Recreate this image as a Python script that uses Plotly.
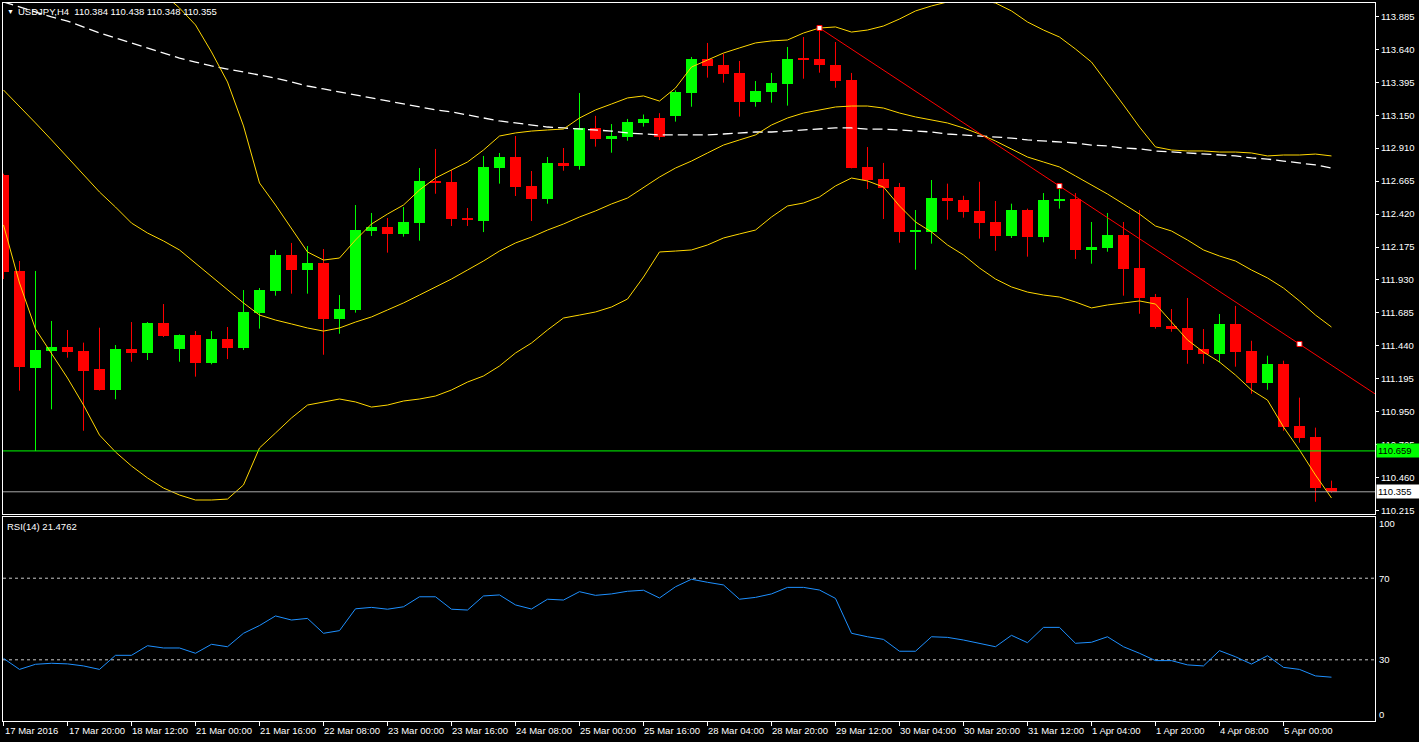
import plotly.graph_objects as go

# ---------------- data ----------------
time_labels = ["17 Mar 2016", "17 Mar 20:00", "18 Mar 12:00", "21 Mar 00:00", "21 Mar 16:00",
               "22 Mar 08:00", "23 Mar 00:00", "23 Mar 16:00", "24 Mar 08:00", "25 Mar 00:00",
               "25 Mar 16:00", "28 Mar 04:00", "28 Mar 20:00", "29 Mar 12:00", "30 Mar 04:00",
               "30 Mar 20:00", "31 Mar 12:00", "1 Apr 04:00", "1 Apr 20:00", "4 Apr 08:00",
               "5 Apr 00:00"]
label_bars = [0, 4, 8, 12, 16, 20, 24, 28, 32, 36, 40, 44, 48, 52, 56, 60, 64, 68, 72, 76, 80]

opens = [112.710, 111.997, 111.278, 111.404, 111.431, 111.402, 111.268, 111.112, 111.417, 111.389,
         111.610, 111.417, 111.521, 111.315, 111.491, 111.426, 111.684, 111.848, 112.115, 112.006,
         112.056, 111.640, 111.707, 112.294, 112.324, 112.274, 112.356, 112.666, 112.658, 112.393,
         112.368, 112.762, 112.844, 112.629, 112.532, 112.799, 112.779, 113.060, 112.980, 112.995,
         113.095, 113.136, 113.149, 113.322, 113.573, 113.528, 113.469, 113.255, 113.330, 113.389,
         113.575, 113.573, 113.528, 113.417, 112.770, 112.681, 112.621, 112.292, 112.289, 112.542,
         112.527, 112.443, 112.363, 112.259, 112.450, 112.252, 112.520, 112.532, 112.155, 112.170,
         112.264, 112.019, 111.803, 111.588, 111.573, 111.417, 111.382, 111.603, 111.402, 111.166,
         111.307, 110.846, 110.765, 110.384]
highs = [112.720, 112.071, 111.997, 111.625, 111.558, 111.464, 111.575, 111.446, 111.617, 111.617,
         111.751, 111.525, 111.550, 111.550, 111.580, 111.855, 111.870, 112.153, 112.205, 112.182,
         112.160, 111.818, 112.487, 112.428, 112.391, 112.472, 112.762, 112.904, 112.747, 112.465,
         112.852, 112.874, 113.000, 112.740, 112.844, 112.911, 113.320, 113.150, 113.089, 113.127,
         113.160, 113.170, 113.340, 113.588, 113.692, 113.612, 113.558, 113.409, 113.469, 113.662,
         113.736, 113.803, 113.699, 113.469, 112.918, 112.800, 112.651, 112.450, 112.673, 112.646,
         112.556, 112.660, 112.517, 112.497, 112.460, 112.576, 112.629, 112.576, 112.361, 112.428,
         112.361, 112.450, 111.826, 111.714, 111.796, 111.565, 111.677, 111.737, 111.478, 111.367,
         111.330, 111.055, 110.832, 110.438]
lows = [111.937, 111.107, 110.659, 110.968, 111.352, 110.809, 111.107, 111.043, 111.322, 111.335,
        111.506, 111.322, 111.211, 111.303, 111.342, 111.409, 111.568, 111.813, 111.828, 111.828,
        111.374, 111.530, 111.687, 112.257, 112.133, 112.252, 112.222, 112.571, 112.331, 112.331,
        112.286, 112.646, 112.554, 112.368, 112.497, 112.742, 112.750, 112.921, 112.876, 112.965,
        113.070, 112.970, 113.107, 113.218, 113.434, 113.397, 113.144, 113.218, 113.248, 113.226,
        113.426, 113.471, 113.359, 112.760, 112.606, 112.383, 112.207, 112.006, 112.200, 112.378,
        112.393, 112.237, 112.147, 112.242, 112.103, 112.210, 112.460, 112.086, 112.051, 112.140,
        111.813, 111.679, 111.568, 111.545, 111.307, 111.307, 111.315, 111.285, 111.084, 111.114,
        110.809, 110.720, 110.281, 110.348]
closes = [111.991, 111.285, 111.409, 111.434, 111.397, 111.255, 111.112, 111.417, 111.389, 111.610,
          111.515, 111.521, 111.315, 111.491, 111.426, 111.692, 111.855, 112.115, 112.006, 112.056,
          111.640, 111.714, 112.301, 112.326, 112.274, 112.361, 112.666, 112.651, 112.383, 112.378,
          112.770, 112.844, 112.621, 112.532, 112.799, 112.779, 113.060, 112.980, 113.003, 113.104,
          113.125, 112.995, 113.330, 113.573, 113.523, 113.463, 113.255, 113.335, 113.394, 113.573,
          113.570, 113.528, 113.409, 112.765, 112.675, 112.616, 112.289, 112.298, 112.542, 112.517,
          112.437, 112.356, 112.259, 112.450, 112.252, 112.524, 112.530, 112.155, 112.175, 112.264,
          112.014, 111.798, 111.582, 111.568, 111.411, 111.382, 111.603, 111.397, 111.166, 111.307,
          110.839, 110.757, 110.384, 110.355]

bb_middle = [113.342, 113.223, 113.097, 112.971, 112.844, 112.710, 112.584, 112.472, 112.353, 112.279,
             112.220, 112.153, 112.056, 111.959, 111.855, 111.759, 111.669, 111.632, 111.603, 111.573,
             111.550, 111.573, 111.617, 111.655, 111.707, 111.759, 111.818, 111.878, 111.937, 112.004,
             112.071, 112.145, 112.205, 112.249, 112.301, 112.346, 112.398, 112.443, 112.495, 112.539,
             112.614, 112.695, 112.762, 112.814, 112.874, 112.933, 112.971, 113.008, 113.082, 113.134,
             113.171, 113.194, 113.216, 113.223, 113.223, 113.208, 113.171, 113.142, 113.119, 113.097,
             113.060, 113.015, 112.963, 112.904, 112.844, 112.807, 112.770, 112.703, 112.636, 112.569,
             112.495, 112.420, 112.331, 112.294, 112.227, 112.153, 112.108, 112.071, 112.004, 111.945,
             111.870, 111.774, 111.669, 111.580]
bb_upper = [None, None, None, None, None, None, None, None, None, 114.101,
            114.056, 113.952, 113.826, 113.625, 113.402, 113.075, 112.651, 112.487, 112.309, 112.138,
            112.078, 112.093, 112.227, 112.346, 112.420, 112.487, 112.599, 112.688, 112.748, 112.807,
            112.896, 113.000, 113.023, 113.037, 113.045, 113.052, 113.134, 113.194, 113.238, 113.283,
            113.298, 113.260, 113.357, 113.513, 113.565, 113.617, 113.655, 113.692, 113.707, 113.714,
            113.766, 113.803, 113.811, 113.773, 113.788, 113.818, 113.870, 113.930, 113.967, 113.997,
            114.004, 114.011, 113.989, 113.930, 113.848, 113.788, 113.736, 113.647, 113.550, 113.394,
            113.231, 113.067, 112.919, 112.896, 112.889, 112.889, 112.881, 112.881, 112.874, 112.852,
            112.859, 112.859, 112.866, 112.852]
bb_lower = [112.339, 111.907, 111.565, 111.379, 111.201, 111.000, 110.777, 110.651, 110.547, 110.458,
            110.383, 110.331, 110.294, 110.294, 110.301, 110.406, 110.681, 110.792, 110.904, 111.000,
            111.023, 111.045, 111.023, 110.985, 111.000, 111.030, 111.045, 111.067, 111.112, 111.171,
            111.216, 111.290, 111.387, 111.461, 111.558, 111.647, 111.669, 111.692, 111.729, 111.788,
            111.952, 112.138, 112.145, 112.153, 112.190, 112.242, 112.272, 112.301, 112.398, 112.480,
            112.502, 112.547, 112.629, 112.688, 112.666, 112.621, 112.480, 112.361, 112.287, 112.190,
            112.116, 112.019, 111.937, 111.878, 111.840, 111.818, 111.803, 111.766, 111.722, 111.744,
            111.759, 111.774, 111.751, 111.617, 111.484, 111.394, 111.320, 111.223, 111.112, 111.037,
            110.837, 110.666, 110.480, 110.309]
ma_slow = [113.997, 113.959, 113.922, 113.885, 113.855, 113.811, 113.766, 113.729, 113.692, 113.655,
           113.617, 113.580, 113.550, 113.521, 113.498, 113.476, 113.454, 113.431, 113.402, 113.372,
           113.350, 113.327, 113.305, 113.283, 113.260, 113.238, 113.216, 113.194, 113.179, 113.156,
           113.134, 113.112, 113.097, 113.082, 113.067, 113.060, 113.052, 113.045, 113.037, 113.023,
           113.015, 113.008, 113.008, 113.008, 113.008, 113.015, 113.023, 113.030, 113.030, 113.037,
           113.045, 113.052, 113.060, 113.060, 113.052, 113.052, 113.045, 113.037, 113.030, 113.015,
           113.008, 113.000, 112.993, 112.985, 112.971, 112.963, 112.956, 112.948, 112.933, 112.926,
           112.911, 112.904, 112.889, 112.881, 112.874, 112.866, 112.859, 112.852, 112.837, 112.829,
           112.814, 112.800, 112.785, 112.762]
rsi = [30.7, 25.3, 27.8, 28.3, 28.0, 27.0, 25.3, 32.2, 32.2, 36.9,
       35.8, 35.8, 33.2, 37.6, 36.4, 43.0, 46.8, 51.5, 49.5, 50.3,
       43.0, 44.3, 55.0, 55.7, 54.8, 56.0, 60.9, 60.9, 54.8, 54.4,
       61.3, 61.8, 56.9, 54.9, 59.7, 59.3, 63.4, 61.6, 62.3, 63.6,
       64.1, 60.3, 65.8, 69.5, 68.0, 66.7, 59.7, 60.6, 62.3, 65.5,
       65.5, 64.2, 60.1, 43.0, 41.3, 40.0, 34.2, 34.2, 41.3, 41.0,
       39.7, 38.1, 36.4, 42.0, 38.4, 45.9, 45.9, 38.1, 38.6, 41.3,
       36.4, 33.2, 29.6, 29.6, 27.5, 27.0, 34.5, 31.5, 27.9, 32.0,
       26.3, 25.3, 22.1, 21.4762]

trend_anchor_bars = [51, 66, 81]
trend_anchor_prices = [113.803, 112.628, 111.454]
support_level = 110.659
bid_level = 110.355
price_ticks = [113.885, 113.640, 113.395, 113.150, 112.910, 112.665, 112.420, 112.175,
               111.930, 111.685, 111.440, 111.195, 110.950, 110.705, 110.460, 110.215]
rsi_levels = [70, 30]
title_text = "USDJPY,H4\u00a0\u00a0110.384 110.438 110.348 110.355"
rsi_title = "RSI(14) 21.4762"

# ---------------- figure ----------------
FONT = "Liberation Sans, Arial, sans-serif"
GREEN = "#00FF00"
RED = "#FF0000"
GOLD = "#FFD700"

n = len(opens)
idx = list(range(n))
up = [c > o for o, c in zip(opens, closes)]

fig = go.Figure()

# wicks
for color, flag in ((GREEN, True), (RED, False)):
    xs, ys = [], []
    for i in idx:
        if up[i] == flag:
            xs += [i, i, None]
            ys += [lows[i], highs[i], None]
    fig.add_trace(go.Scatter(x=xs, y=ys, mode="lines", line=dict(color=color, width=1),
                             hoverinfo="skip", showlegend=False, xaxis="x", yaxis="y"))

# bodies
bases = [min(o, c) for o, c in zip(opens, closes)]
heights = [max(abs(c - o), 0.0075) for o, c in zip(opens, closes)]
fig.add_trace(go.Bar(x=idx, y=heights, base=bases, width=0.69,
                     marker=dict(color=[GREEN if u else RED for u in up], line=dict(width=0)),
                     hoverinfo="skip", showlegend=False, xaxis="x", yaxis="y"))

# slow MA (dashed white)
fig.add_trace(go.Scatter(x=idx, y=ma_slow, mode="lines",
                         line=dict(color="#FFFFFF", width=1.3, dash="10px,5px"),
                         hoverinfo="skip", showlegend=False, xaxis="x", yaxis="y"))
# Bollinger bands
for band in (bb_upper, bb_middle, bb_lower):
    fig.add_trace(go.Scatter(x=idx, y=band, mode="lines", line=dict(color=GOLD, width=1),
                             hoverinfo="skip", showlegend=False, xaxis="x", yaxis="y"))

# trend line (ray) through the anchors
slope = (trend_anchor_prices[1] - trend_anchor_prices[0]) / (trend_anchor_bars[1] - trend_anchor_bars[0])
ray_end = 88
fig.add_trace(go.Scatter(x=[trend_anchor_bars[0], ray_end],
                         y=[trend_anchor_prices[0], trend_anchor_prices[0] + slope * (ray_end - trend_anchor_bars[0])],
                         mode="lines", line=dict(color=RED, width=1),
                         hoverinfo="skip", showlegend=False, xaxis="x", yaxis="y"))
fig.add_trace(go.Scatter(x=trend_anchor_bars, y=trend_anchor_prices, mode="markers",
                         marker=dict(symbol="square", size=5, color="#FFFFFF", line=dict(color=RED, width=1)),
                         hoverinfo="skip", showlegend=False, xaxis="x", yaxis="y"))

# RSI
fig.add_trace(go.Scatter(x=idx, y=rsi, mode="lines", line=dict(color="#1E90FF", width=1),
                         hoverinfo="skip", showlegend=False, xaxis="x2", yaxis="y2"))

X_RANGE = [-0.031, 85.72]
Y_RANGE = [110.190, 113.989]

shapes = [
    dict(type="line", xref="paper", x0=0, x1=1, yref="y", y0=support_level, y1=support_level,
         line=dict(color=GREEN, width=1)),
    dict(type="line", xref="paper", x0=0, x1=1, yref="y", y0=bid_level, y1=bid_level,
         line=dict(color="#A8A8A8", width=1)),
]
for lv in rsi_levels:
    shapes.append(dict(type="line", xref="paper", x0=0, x1=1, yref="y2", y0=lv, y1=lv, layer="below",
                       line=dict(color="#C8C8C8", width=1, dash="3px,3px")))

annotations = []
for b, t in zip(label_bars, time_labels):
    annotations.append(dict(x=b, xref="x2", y=0, yref="paper", text=t, showarrow=False,
                            xanchor="left", yanchor="top", xshift=-1, yshift=-2,
                            font=dict(family=FONT, size=9.5, color="#FFFFFF")))
annotations += [
    dict(x=0, xref="paper", y=1, yref="paper", text="\u25BC", showarrow=False, xanchor="left",
         yanchor="top", xshift=2, yshift=-3, font=dict(family=FONT, size=7, color="#FFFFFF")),
    dict(x=0, xref="paper", y=1, yref="paper", text=title_text, showarrow=False, xanchor="left",
         yanchor="top", xshift=13, yshift=-1, font=dict(family=FONT, size=9.5, color="#FFFFFF")),
    dict(x=0, xref="paper", y=100, yref="y2", text=rsi_title, showarrow=False, xanchor="left",
         yanchor="top", xshift=2, yshift=-2, font=dict(family=FONT, size=9.5, color="#FFFFFF")),
    dict(x=1, xref="paper", y=support_level, yref="y", text=f"{support_level:.3f}",
         showarrow=False, xanchor="left", yanchor="middle", xshift=1, bgcolor=GREEN, width=40,
         align="left", borderpad=1, font=dict(family=FONT, size=9.5, color="#000000")),
    dict(x=1, xref="paper", y=bid_level, yref="y", text=f"{bid_level:.3f}",
         showarrow=False, xanchor="left", yanchor="middle", xshift=1, bgcolor="#FFFFFF", width=40,
         align="left", borderpad=1, font=dict(family=FONT, size=9.5, color="#000000")),
]
for val, pos in ((100, 97.0), (70, 70), (30, 30), (0, 3.4)):
    annotations.append(dict(x=1, xref="paper", y=pos, yref="y2", text=str(val), showarrow=False,
                            xanchor="left", yanchor="middle", xshift=2,
                            font=dict(family=FONT, size=9.5, color="#FFFFFF")))

axis_common = dict(showgrid=False, zeroline=False, showline=True, mirror=True,
                   linecolor="#FFFFFF", linewidth=1)

fig.update_layout(
    width=1419, height=742,
    margin=dict(l=3, r=44, t=3, b=21, autoexpand=False),
    paper_bgcolor="#000000", plot_bgcolor="#000000",
    showlegend=False, bargap=0,
    xaxis=dict(domain=[0, 1], range=X_RANGE, anchor="y", showticklabels=False, ticks="", **axis_common),
    yaxis=dict(domain=[0.2883, 1], range=Y_RANGE, anchor="x", side="right",
               tickvals=price_ticks, ticktext=[f"{v:.3f}" for v in price_ticks],
               ticks="outside", ticklen=3, tickcolor="#FFFFFF",
               tickfont=dict(family=FONT, size=9.5, color="#FFFFFF"), **axis_common),
    xaxis2=dict(domain=[0, 1], range=X_RANGE, anchor="y2", matches="x", tickvals=label_bars,
                showticklabels=False, ticks="outside", ticklen=4, tickcolor="#FFFFFF", **axis_common),
    yaxis2=dict(domain=[0, 0.2841], range=[0, 100], anchor="x2", side="right",
                showticklabels=False, ticks="", **axis_common),
    shapes=shapes, annotations=annotations,
)

fig.write_html("out.html", config={"displayModeBar": False},
               post_script="document.body.style.margin='0';document.body.style.background='#000';")
